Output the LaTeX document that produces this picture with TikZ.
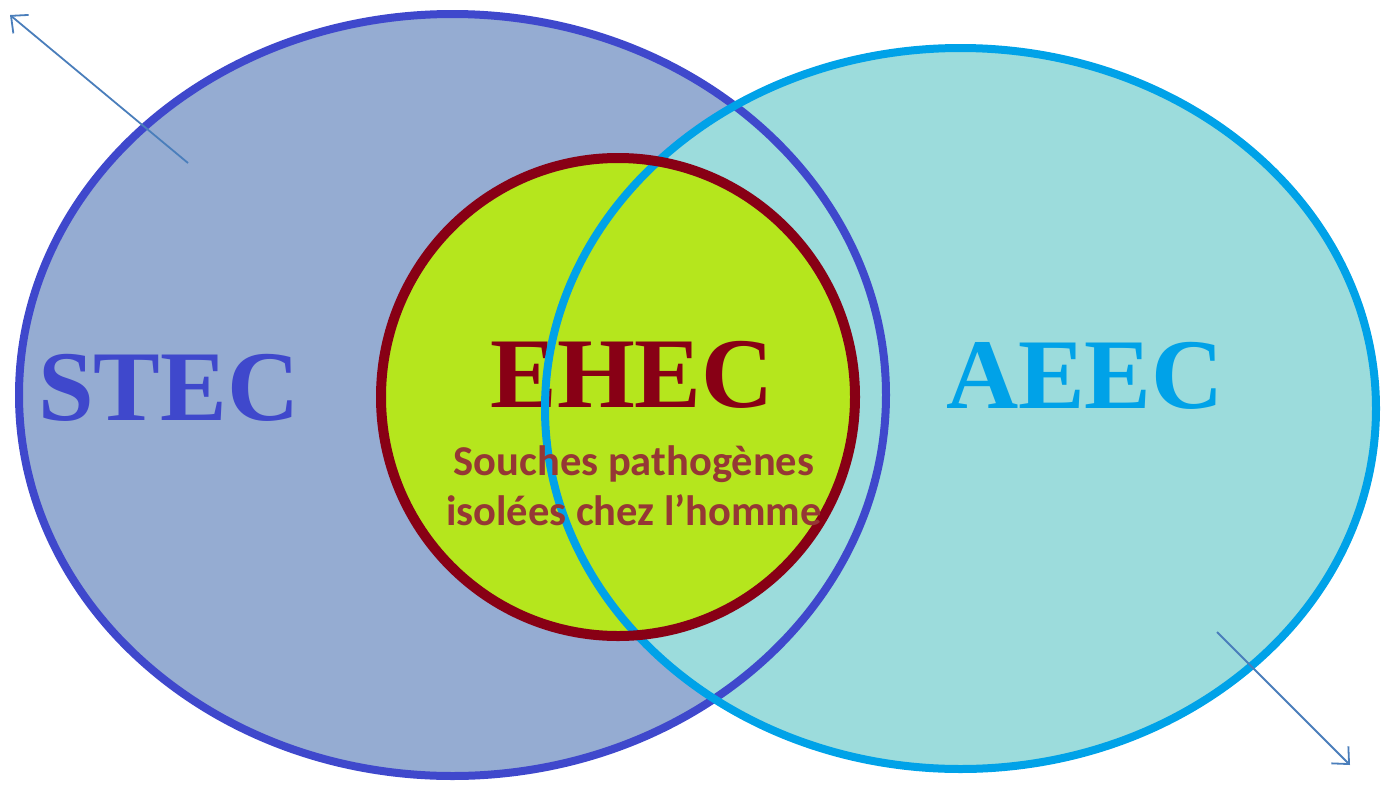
\documentclass[tikz,border=0pt]{standalone}
\usepackage{fontspec}
\setmainfont{Liberation Serif}
\newfontfamily\labelfont{Carlito}
\usetikzlibrary{shapes.geometric,arrows.meta}

\definecolor{stecfill}{HTML}{95ACD2}
\definecolor{stecline}{HTML}{3F48CC}
\definecolor{aeecfill}{HTML}{9CDCDC}
\definecolor{aeecline}{HTML}{00A2E8}
\definecolor{ehecfill}{HTML}{B5E61D}
\definecolor{ehecline}{HTML}{880015}
\definecolor{subtext}{HTML}{953735}
\definecolor{pointer}{HTML}{4A7EBB}

\tikzset{
  region/.style={ellipse, inner sep=0pt, outer sep=0pt},
  bigname/.style={anchor=base, inner sep=0pt, font=\fontsize{100}{100}\selectfont\bfseries},
  pointerline/.style={draw=pointer, line width=1.8pt,
    -{Straight Barb[length=13pt, width=24pt, line width=1.8pt]}},
}

\begin{document}
\begin{tikzpicture}[x=1pt, y=-1pt]
  \useasboundingbox (0,0) rectangle (1382,785);

  % the two large families
  \node[region, fill=stecfill, minimum width=867pt, minimum height=762pt] (stec) at (452.5,395) {};
  \node[region, fill=aeecfill, minimum width=831pt, minimum height=721pt] (aeec) at (960.5,408.5) {};
  \draw[stecline, line width=8pt] (stec.center) ellipse [x radius=433.5pt, y radius=381pt];
  \draw[aeecline, line width=8pt] (aeec.center) ellipse [x radius=415.5pt, y radius=360.5pt];

  % the pathogenic subset
  \node[region, fill=ehecfill, minimum width=474pt, minimum height=478pt] (ehec) at (618,397) {};
  \node[bigname, text=ehecline] (ehecname) at (632,407) {EHEC};
  \begin{scope}
    \clip (ehec.center) ellipse [x radius=237pt, y radius=239pt];
    \draw[aeecline, line width=8pt] (aeec.center) ellipse [x radius=415.5pt, y radius=360.5pt];
  \end{scope}
  \draw[ehecline, line width=10pt] (ehec.center) ellipse [x radius=237pt, y radius=239pt];

  % names of the two families
  \node[bigname, text=stecline] (stecname) at (169,420) {STEC};
  \node[bigname, text=aeecline] (aeecname) at (1085,408) {AEEC};

  \node[anchor=base, inner sep=0pt, text=subtext, align=center,
        font=\labelfont\bfseries\fontsize{42.5}{50}\selectfont] (ehecnote) at (634,525)
        {Souches pathogènes\\isolées chez l’homme};

  % pointers leaving the figure
  \coordinate (p1s) at (188,163);
  \coordinate (p1e) at (10,15);
  \coordinate (p2s) at (1217,632);
  \coordinate (p2e) at (1350,765);
  \draw[pointerline] (p1s) -- (p1e);
  \draw[pointerline] (p2s) -- (p2e);
\end{tikzpicture}
\end{document}
